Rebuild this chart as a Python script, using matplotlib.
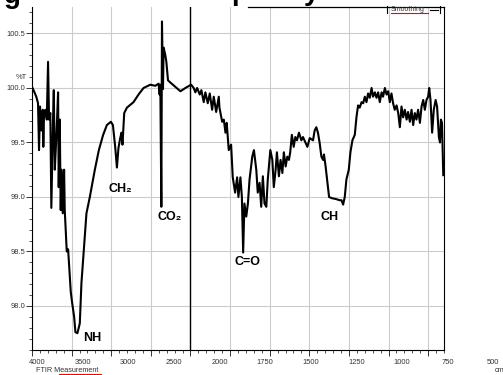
import numpy as np
import matplotlib
matplotlib.use("Agg")
import matplotlib.pyplot as plt

plt.rcParams['font.family'] = ['Liberation Sans', 'DejaVu Sans']

# FTIR spectrum (wavenumber cm-1, %T)
wavenumber = [
    4055, 4033, 4008, 3989, 3978, 3967, 3953, 3937, 3931, 3923, 3909, 3893,
    3879, 3868, 3854, 3843, 3824, 3816, 3805, 3788, 3769, 3762, 3751, 3740,
    3733, 3718, 3703, 3696, 3689, 3674, 3659, 3645, 3630, 3615, 3593, 3579,
    3557, 3531, 3513, 3487, 3458, 3421, 3366, 3322, 3275, 3234, 3190, 3168,
    3143, 3124, 3107, 3088, 3074, 3063, 3044, 3014, 2942, 2887, 2832, 2758,
    2703, 2667, 2656, 2648, 2637, 2630, 2619, 2612, 2593, 2582, 2564, 2538,
    2483, 2428, 2373, 2311, 2282, 2264, 2245, 2216, 2198, 2172, 2154, 2128,
    2106, 2080, 2062, 2036, 2007, 2000, 1985, 1976, 1967, 1960, 1949, 1936,
    1927, 1914, 1903, 1896, 1885, 1877, 1870, 1863, 1853, 1844, 1835, 1820,
    1811, 1798, 1790, 1780, 1771, 1762, 1753, 1743, 1735, 1721, 1710, 1702,
    1692, 1685, 1674, 1665, 1655, 1647, 1637, 1628, 1619, 1612, 1603, 1593,
    1584, 1575, 1564, 1551, 1542, 1529, 1518, 1505, 1487, 1478, 1469, 1460,
    1451, 1441, 1432, 1427, 1418, 1410, 1399, 1386, 1359, 1341, 1331, 1322,
    1313, 1304, 1291, 1282, 1271, 1258, 1249, 1240, 1231, 1221, 1212, 1203,
    1194, 1185, 1176, 1166, 1158, 1148, 1139, 1130, 1121, 1111, 1103, 1093,
    1084, 1075, 1066, 1057, 1048, 1039, 1029, 1020, 1011, 1002, 993, 984,
    974, 966, 956, 947, 938, 929, 920, 911, 901, 892, 883, 874,
    865, 856, 850, 843, 834, 825, 815, 807, 797, 791, 786, 780, 773,
]
transmittance = [
    100.01, 99.97, 99.92, 99.86, 99.43, 99.83, 99.61, 99.80, 99.46, 99.77, 99.80, 99.71,
    100.24, 99.71, 99.77, 98.90, 99.73, 99.98, 99.25, 99.55, 99.96, 99.09, 99.71, 98.88,
    99.25, 98.85, 99.25, 98.88, 98.76, 98.50, 98.52, 98.33, 98.13, 98.03, 97.90, 97.76,
    97.75, 97.84, 98.21, 98.51, 98.85, 99.00, 99.25, 99.43, 99.57, 99.66, 99.69, 99.66,
    99.46, 99.27, 99.45, 99.54, 99.59, 99.48, 99.77, 99.82, 99.87, 99.94, 100.00, 100.03,
    100.02, 100.04, 99.94, 100.03, 98.91, 100.61, 99.99, 100.37, 100.30, 100.24, 100.07, 100.05,
    100.01, 99.97, 100.00, 100.03, 100.00, 99.96, 100.00, 99.94, 99.98, 99.87, 99.96, 99.86,
    99.95, 99.80, 99.92, 99.78, 99.92, 99.82, 99.69, 99.71, 99.59, 99.68, 99.43, 99.48,
    99.18, 99.04, 99.18, 99.00, 99.18, 99.00, 98.49, 98.94, 98.82, 98.94, 99.16, 99.37,
    99.43, 99.25, 99.04, 99.13, 98.91, 99.19, 98.94, 98.91, 99.16, 99.43, 99.34, 99.09,
    99.25, 99.41, 99.19, 99.34, 99.22, 99.41, 99.28, 99.37, 99.34, 99.41, 99.57, 99.46,
    99.55, 99.52, 99.59, 99.52, 99.55, 99.50, 99.46, 99.54, 99.52, 99.61, 99.64, 99.59,
    99.50, 99.37, 99.34, 99.39, 99.28, 99.16, 99.00, 98.99, 98.98, 98.97, 98.97, 98.93,
    99.00, 99.16, 99.25, 99.41, 99.52, 99.57, 99.73, 99.84, 99.82, 99.87, 99.86, 99.92,
    99.87, 99.95, 99.91, 100.00, 99.92, 99.96, 99.91, 99.96, 99.87, 99.96, 99.92, 100.00,
    99.94, 99.97, 99.87, 99.95, 99.86, 99.80, 99.84, 99.77, 99.64, 99.83, 99.73, 99.80,
    99.71, 99.78, 99.69, 99.80, 99.66, 99.77, 99.71, 99.80, 99.68, 99.83, 99.89, 99.80,
    99.89, 99.92, 100.00, 99.89, 99.59, 99.80, 99.89, 99.83, 99.55, 99.50, 99.71, 99.68, 99.20,
]

# band labels: (text, wavenumber, %T)
band_labels = ["NH", "CH\u2082", "CO\u2082", "C=O", "CH"]
band_x = [3396, 3088, 2549, 1846, 1396]
band_y = [97.71, 99.07, 98.82, 98.40, 98.82]

xtick_labels = [4000, 3500, 3000, 2500, 2000, 1750, 1500, 1250, 1000, 750, 500]
ytick_values = [98.0, 98.5, 99.0, 99.5, 100.0, 100.5]


# scale is doubled below 2000 cm-1
def fwd(w):
    w = np.asarray(w, float)
    return np.where(w >= 2000, w, 2 * w - 2000)


def inv(f):
    f = np.asarray(f, float)
    return np.where(f >= 2000, f, (f + 2000) / 2)


fig = plt.figure(figsize=(5.03, 3.75), dpi=100)
ax = fig.add_axes([32 / 503, 25 / 375, 412 / 503, 343 / 375])
ax.set_xscale('function', functions=(fwd, inv))
ax.set_xlim(4055, 769)
ax.set_ylim(97.596, 100.743)

# grid / tick system of the instrument plot (divisions independent of labels)
fl, fr = 4055.0, 2 * 769 - 2000.0
step = (fl - fr) / 10.4
major = [float(inv(fl - step * k)) for k in range(11)]
minor = [float(inv(fl - step * k / 5)) for k in range(53)]
ax.set_xticks(major)
ax.set_xticks(minor, minor=True)
ax.set_xticklabels([])
ax.set_yticks(ytick_values)
ax.set_yticks(np.arange(97.6, 100.75, 0.1), minor=True)
ax.set_yticklabels(['%.1f' % v for v in ytick_values], fontsize=5.4, color='#333333')
ax.tick_params(which='major', length=4, width=0.7, color='#333333', pad=1)
ax.tick_params(which='minor', length=2, width=0.6, color='#333333')
ax.grid(True, which='major', color='#cccccc', lw=0.8)
ax.set_axisbelow(True)
for s in ['left', 'bottom', 'right']:
    ax.spines[s].set_linewidth(0.8)
ax.spines['top'].set_visible(False)

ax.axvline(major[4], color='black', lw=1.0, zorder=1)

ax.plot(wavenumber, transmittance, color='black', lw=1.5, zorder=3)

ax.text(-0.012, 0.7944, '%T', transform=ax.transAxes, fontsize=5.4,
        color='#333333', ha='right', va='center')

tr = ax.get_xaxis_transform()
for v in xtick_labels:
    ax.text(v, -0.035, str(v), transform=tr, fontsize=5.4, color='#333333',
            ha='center', va='center', clip_on=False)

for t, x, y in zip(band_labels, band_x, band_y):
    ax.text(x, y, t, fontsize=9, fontweight='bold', ha='center', va='center',
            zorder=4, bbox=dict(facecolor='white', edgecolor='none', pad=0.5))

# partial top frame and "Smoothing" tab
H = 375.0
W = 503.0
fig.add_artist(plt.Line2D([248 / W, 444 / W], [1 - 7 / H] * 2, color='black', lw=0.9))
fig.add_artist(plt.Line2D([387 / W, 387 / W], [1 - 6 / H, 1 - 13 / H], color='black', lw=0.8))
fig.add_artist(plt.Line2D([440 / W, 440 / W], [1 - 6 / H, 1 - 13 / H], color='black', lw=0.8))
fig.add_artist(plt.Line2D([430 / W, 438 / W], [1 - 10 / H] * 2, color='black', lw=0.8))
fig.text(391 / W, 1 - 9.5 / H, 'Smoothing', fontsize=5, color='#333333',
         ha='left', va='center')
fig.add_artist(plt.Line2D([391 / W, 428 / W], [1 - 12.5 / H] * 2, color='red', lw=0.8))

# cropped title remnants at the very top (only the descenders show)
for ch, xp, yb in zip(['g', 'p', 'y'], [12, 240, 312], [3, 0, 0]):
    fig.text(xp / W, 1 - yb / H, ch, fontsize=20, fontweight='bold',
             ha='center', va='baseline')

fig.text(36 / W, 1 - 371 / H, 'FTIR Measurement', fontsize=5.2,
         color='#333333', ha='left', va='center')
fig.add_artist(plt.Line2D([59 / W, 101 / W], [1 - 374 / H] * 2,
                          color='red', lw=0.8))
fig.text(495 / W, 1 - 371 / H, 'cm', fontsize=5.2, color='#333333',
         ha='left', va='center')

fig.savefig('out.png', dpi=100)
